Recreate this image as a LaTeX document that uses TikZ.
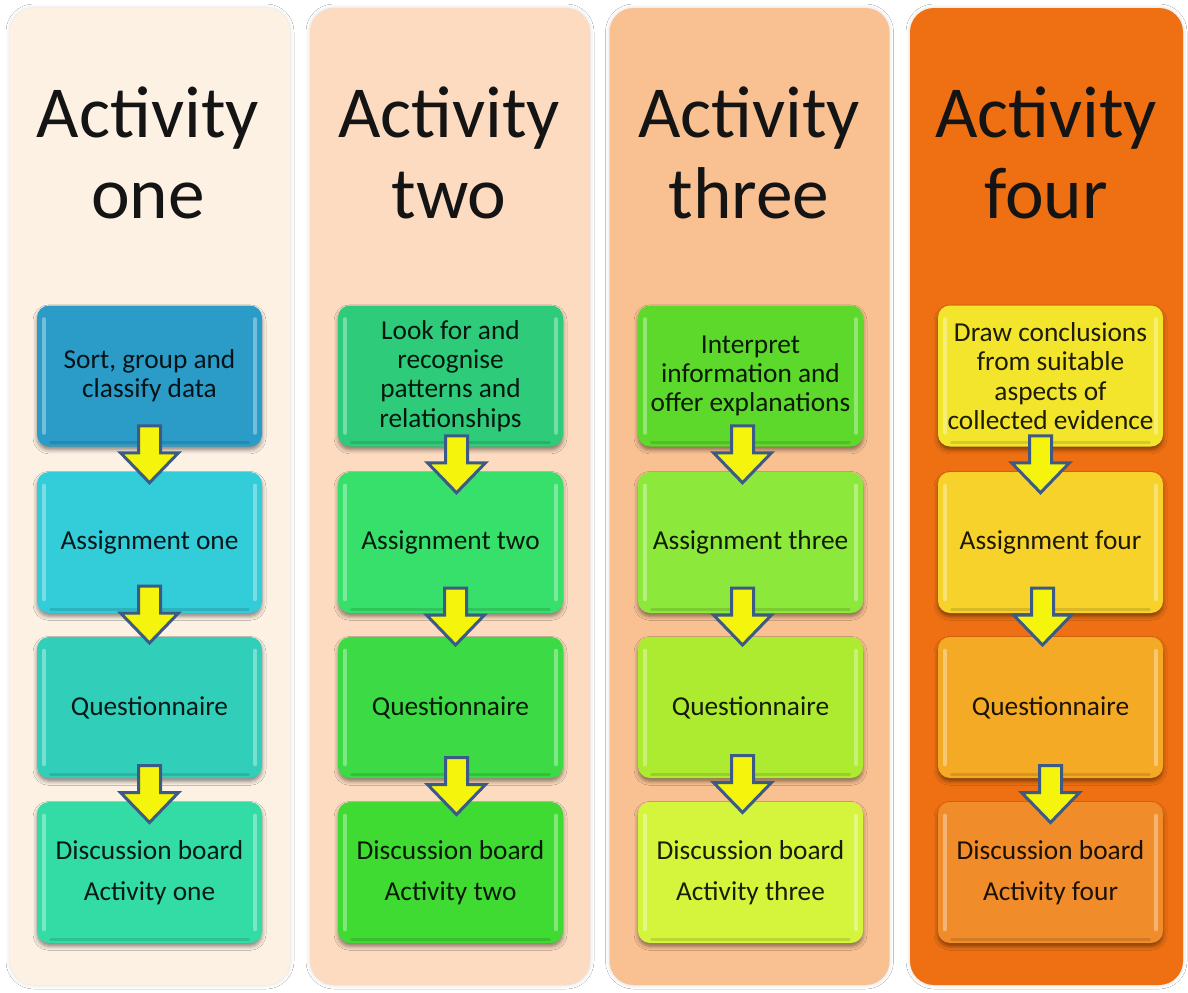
\documentclass[tikz,border=0pt]{standalone}
\usepackage{fontspec}
\setmainfont{Carlito}
\usetikzlibrary{shadows.blur,calc}
\definecolor{pA}{HTML}{FDF1E4}
\definecolor{pB}{HTML}{FCDBC0}
\definecolor{pC}{HTML}{F9C192}
\definecolor{pD}{HTML}{EE7012}
\definecolor{a1}{HTML}{2B9CC8}
\definecolor{a2}{HTML}{33CCD9}
\definecolor{a3}{HTML}{31CEB9}
\definecolor{a4}{HTML}{33DCA5}
\definecolor{b1}{HTML}{2DCB7A}
\definecolor{b2}{HTML}{37E06A}
\definecolor{b3}{HTML}{3CDB45}
\definecolor{b4}{HTML}{3FDB32}
\definecolor{c1}{HTML}{5CD92A}
\definecolor{c2}{HTML}{8CE83A}
\definecolor{c3}{HTML}{ADEB30}
\definecolor{c4}{HTML}{D4F53C}
\definecolor{d1}{HTML}{F3E52C}
\definecolor{d2}{HTML}{F6D22A}
\definecolor{d3}{HTML}{F5AA25}
\definecolor{d4}{HTML}{F18C2A}
\definecolor{arrowedge}{HTML}{3B5A85}
\definecolor{arrowfill}{HTML}{F4F40C}
\tikzset{
  panel/.style={rounded corners=18pt, minimum width=210pt, minimum height=732.75pt,
    inner sep=0pt, draw=none,
    blur shadow={shadow xshift=0pt, shadow yshift=0pt, shadow opacity=15, shadow blur radius=3pt}},
  titletext/.style={font=\fontsize{55}{61}\selectfont, anchor=base, text=black!92},
  stepbox/.style={rounded corners=9pt, minimum width=168.75pt, minimum height=105.75pt,
    inner sep=2pt, align=center, font=\fontsize{20.5}{22}\selectfont,
    blur shadow={shadow xshift=0pt, shadow yshift=-2.5pt, shadow opacity=45, shadow blur radius=3pt}},
  bevel/.style={draw=white, draw opacity=0.35, line width=3pt, line cap=round},
  shade/.style={draw=black, draw opacity=0.12, line width=2.5pt, line cap=round},
  dnarrow/.pic={\draw[line width=2.25pt, draw=arrowedge, fill=arrowfill, line join=miter]
    (-11,-27) -- (11,-27) -- (11,0) -- (29,0) -- (0,30) -- (-29,0) -- (-11,0) -- cycle;}
}
\newcommand\stepnode[5]{%
  \node[stepbox, fill=#4, text=#4!12!black] (#1) at (#2,#3) {#5};
  \draw[bevel] ($(#1.north west)+(7,14)$) -- ($(#1.south west)+(7,-14)$);
  \draw[bevel] ($(#1.north east)+(-7,14)$) -- ($(#1.south east)+(-7,-14)$);
  \draw[shade] ($(#1.south west)+(14,-4)$) -- ($(#1.south east)+(-14,-4)$);
}
\newcommand\flow[4]{%
  \pic at ($(#1.south)!0.5!(#2.north)+(#3,#4)$) {dnarrow};
}
\begin{document}
\begin{tikzpicture}[x=0.75pt, y=-0.75pt]
\useasboundingbox (0,0) rectangle (1188,992);
\fill[white] (0,0) rectangle (1188,992);
% panels
\node[panel, fill=pA] (P1) at (150,496.5) {};
\node[panel, fill=pB] (P2) at (450,496.5) {};
\node[panel, fill=pC] (P3) at (749.5,496.5) {};
\node[panel, fill=pD, minimum width=204.75pt] (P4) at (1046.5,496.5) {};
% titles
\node[titletext] (T1a) at (148,137) {Activity};
\node[titletext] (T1b) at (148,218) {one};
\node[titletext] (T2a) at (449,137) {Activity};
\node[titletext] (T2b) at (449,218) {two};
\node[titletext] (T3a) at (749,137) {Activity};
\node[titletext] (T3b) at (749,218) {three};
\node[titletext] (T4a) at (1046,137) {Activity};
\node[titletext] (T4b) at (1046,218) {four};
% column one
\stepnode{A1}{149.5}{376}{a1}{Sort, group and\\classify data}
\stepnode{A2}{149.5}{542.5}{a2}{Assignment one}
\stepnode{A3}{149.5}{707.5}{a3}{Questionnaire}
\stepnode{A4}{149.5}{872.5}{a4}{Discussion board\\[9pt]Activity one}
% column two
\stepnode{B1}{450.5}{376}{b1}{Look for and\\recognise\\patterns and\\relationships}
\stepnode{B2}{450.5}{542.5}{b2}{Assignment two}
\stepnode{B3}{450.5}{707.5}{b3}{Questionnaire}
\stepnode{B4}{450.5}{872.5}{b4}{Discussion board\\[9pt]Activity two}
% column three
\stepnode{C1}{750.5}{376}{c1}{Interpret\\information and\\offer explanations}
\stepnode{C2}{750.5}{542.5}{c2}{Assignment three}
\stepnode{C3}{750.5}{707.5}{c3}{Questionnaire}
\stepnode{C4}{750.5}{872.5}{c4}{Discussion board\\[9pt]Activity three}
% column four
\stepnode{D1}{1050.5}{376}{d1}{Draw conclusions\\from suitable\\aspects of\\collected evidence}
\stepnode{D2}{1050.5}{542.5}{d2}{Assignment four}
\stepnode{D3}{1050.5}{707.5}{d3}{Questionnaire}
\stepnode{D4}{1050.5}{872.5}{d4}{Discussion board\\[9pt]Activity four}
% arrows
\flow{A1}{A2}{0}{-6.5}
\flow{A2}{A3}{0}{-12}
\flow{A3}{A4}{0}{2.5}
\flow{B1}{B2}{6}{3.5}
\flow{B2}{B3}{5}{-10}
\flow{B3}{B4}{6}{-5.5}
\flow{C1}{C2}{-8}{-6.5}
\flow{C2}{C3}{-8}{-10}
\flow{C3}{C4}{-8}{-7.5}
\flow{D1}{D2}{-10}{3.5}
\flow{D2}{D3}{-8}{-10}
\flow{D3}{D4}{0}{2.5}
\end{tikzpicture}
\end{document}
